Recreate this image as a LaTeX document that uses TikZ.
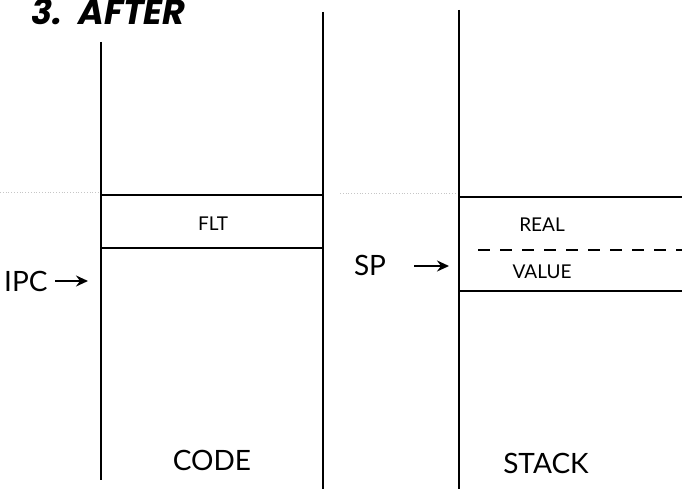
\documentclass[tikz,border=0pt]{standalone}
\usepackage{fontspec}
\usetikzlibrary{arrows.meta}
\setmainfont{Lato}
\newfontfamily\titlefont{Poppins}[BoldItalicFont={* Bold Italic}]
\begin{document}
\begin{tikzpicture}[x=1pt,y=-1pt,
  wall/.style={line width=1.6pt},
  lbl/.style={inner sep=0pt,font=\fontsize{19}{19}\selectfont},
  big/.style={inner sep=0pt,font=\fontsize{28}{28}\selectfont},
  arr/.style={-{Stealth[length=12pt,width=11pt,inset=4pt]},line width=1.8pt}]
\useasboundingbox (0,0) rectangle (682,489);
% faint dotted scan lines
\draw[gray!45,dotted,line width=0.8pt] (0,192) -- (100,192);
\draw[gray!45,dotted,line width=0.8pt] (340,193) -- (459,193);
% title
\node[anchor=base west,inner sep=0pt,font=\titlefont\bfseries\itshape\fontsize{35}{35}\selectfont] (title) at (31,25) {3.\hspace{16pt}AFTER};
% code column
\coordinate (cl1) at (101,42); \coordinate (cl2) at (101,480);
\coordinate (cr1) at (323,12); \coordinate (cr2) at (323,489);
\draw[wall] (cl1) -- (cl2);
\draw[wall] (cr1) -- (cr2);
\coordinate (c1l) at (101,195); \coordinate (c1r) at (323,195);
\coordinate (c2l) at (101,248); \coordinate (c2r) at (323,248);
\draw[wall] (c1l) -- (c1r);
\draw[wall] (c2l) -- (c2r);
\node[lbl] (flt) at (213,224) {FLT};
\node[big] (code) at (212,460) {CODE};
\node[big,anchor=west] (ipc) at (4,281) {IPC};
\coordinate (ipcfrom) at (55,281); \coordinate (ipcto) at (88,281);
\draw[arr] (ipcfrom) -- (ipcto);
% stack column
\coordinate (sl1) at (459,10); \coordinate (sl2) at (459,489);
\draw[wall] (sl1) -- (sl2);
\coordinate (s1l) at (459,197); \coordinate (s1r) at (682,197);
\coordinate (s2l) at (478,250); \coordinate (s2r) at (682,250);
\coordinate (s3l) at (459,291); \coordinate (s3r) at (682,291);
\draw[wall] (s1l) -- (s1r);
\draw[wall,dash pattern=on 12pt off 10pt] (s2l) -- (s2r);
\draw[wall] (s3l) -- (s3r);
\node[lbl] (real) at (542,225) {REAL};
\node[lbl] (value) at (542,272) {VALUE};
\node[big] (stack) at (546,463) {STACK};
\node[big] (sp) at (370,265) {SP};
\coordinate (spfrom) at (414,266); \coordinate (spto) at (449,266);
\draw[arr] (spfrom) -- (spto);
\end{tikzpicture}
\end{document}
